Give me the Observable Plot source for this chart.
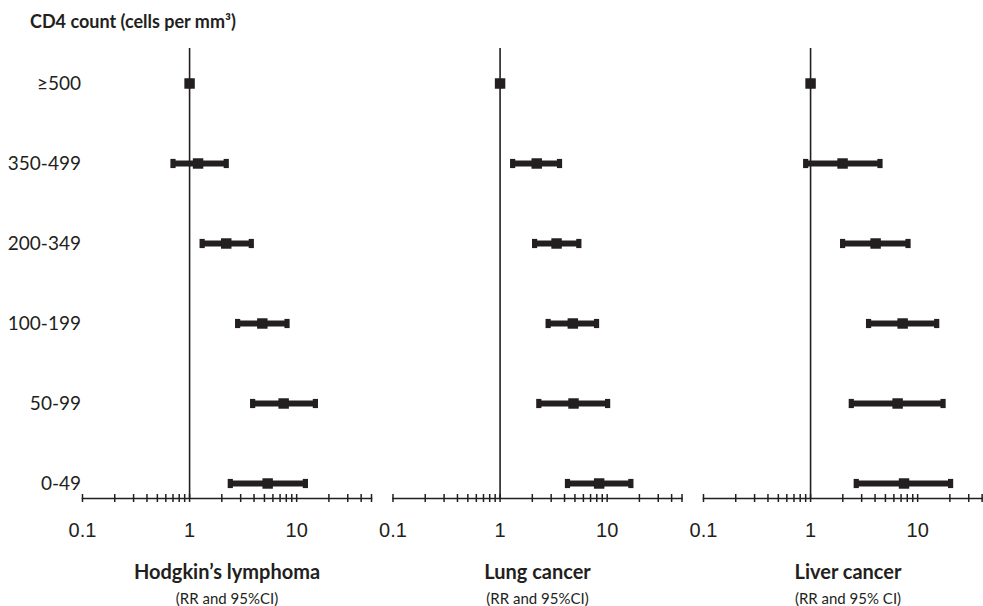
<!DOCTYPE html>
<html><head><meta charset="utf-8">
<script src="https://cdn.jsdelivr.net/npm/d3@7"></script>
<script src="https://cdn.jsdelivr.net/npm/@observablehq/plot@0.6"></script>
<style>
html,body{margin:0;padding:0;background:#fff;overflow:hidden;width:983px;height:606px}
#wrap{position:relative;width:983px;height:606px;overflow:hidden}
#chart{position:absolute;left:0;top:0;width:992px}
#title{position:absolute;left:30px;top:12px;font:bold 18px Lato,sans-serif;line-height:1;color:#231f20;white-space:nowrap}
</style></head><body>
<div id="wrap"><div id="chart"></div><div id="title">CD4 count (cells per mm³)</div></div>
<script>
// ---- data ----
const cd4Groups = ["≥500", "350-499", "200-349", "100-199", "50-99", "0-49"];
const cancers = ["Hodgkin’s lymphoma", "Lung cancer", "Liver cancer"];
const ciNotes = ["(RR and 95%CI)", "(RR and 95%CI)", "(RR and 95% CI)"];

const hodgkinRR = [1, 1.20, 2.20, 4.78, 7.56, 5.36];
const hodgkinLo = [1, 0.70, 1.31, 2.81, 3.88, 2.40];
const hodgkinHi = [1, 2.20, 3.77, 8.13, 14.96, 12.06];

const lungRR = [1, 2.20, 3.37, 4.78, 4.85, 8.42];
const lungLo = [1, 1.31, 2.10, 2.81, 2.30, 4.26];
const lungHi = [1, 3.59, 5.44, 7.96, 10.10, 16.65];

const liverRR = [1, 1.99, 4.05, 7.24, 6.50, 7.46];
const liverLo = [1, 0.90, 1.99, 3.48, 2.40, 2.67];
const liverHi = [1, 4.45, 8.13, 15.06, 17.27, 20.30];

const xDomain = [0.1, 50];
const xTicks = [0.1, 0.2, 0.3, 0.4, 0.5, 0.6, 0.7, 0.8, 0.9, 1, 2, 3, 4, 5, 6, 7, 8, 9, 10, 20, 30, 40, 50];
const xLabels = [0.1, 1, 10];

// ---- table built from the arrays ----
const rrSets = [hodgkinRR, lungRR, liverRR];
const loSets = [hodgkinLo, lungLo, liverLo];
const hiSets = [hodgkinHi, lungHi, liverHi];
const rows = cancers.flatMap((c, j) => cd4Groups.map((g, i) => ({
  cancer: c, cd4: g, rr: rrSets[j][i], lo: loSets[j][i], hi: hiSets[j][i]
})));

const ink = "#231f20";
// end-cap glyph: a small upright rectangle
const capSymbol = {draw(ctx) { ctx.rect(-2.6, -4.6, 5.2, 9.2); }};

const chart = Plot.plot({
  width: 992,
  height: 606,
  marginTop: 48,
  marginBottom: 108,
  marginLeft: 82,
  marginRight: 0,
  style: {fontFamily: "Lato, sans-serif", color: ink, background: "white", overflow: "visible", maxWidth: "none"},
  x: {type: "log", domain: xDomain},
  y: {type: "point", domain: cd4Groups, padding: 0.288, align: 0.69},
  fx: {domain: cancers, paddingInner: 0.0692, paddingOuter: 0, round: false},
  marks: [
    Plot.ruleX([1], {stroke: ink, strokeWidth: 1.6}),
    Plot.frame({anchor: "bottom", stroke: ink, strokeWidth: 1.6}),
    Plot.axisX({ticks: xTicks, tickSize: 8, dy: -4, fill: "none", stroke: ink, strokeWidth: 1.5, label: null}),
    Plot.axisX({ticks: xLabels, tickSize: 0, tickPadding: 24.5, tickFormat: d => String(d),
      fontSize: 20, fontFamily: "Liberation Sans, Arial, sans-serif", label: null}),
    Plot.axisY({tickSize: 0, tickPadding: 1.5, fontSize: 19, label: null}),
    Plot.axisFx({anchor: "bottom", tickSize: 0, tickPadding: 66, fontSize: 20, fontWeight: "bold", label: null}),
    Plot.text(cancers, {fx: d => d, text: (d, i) => ciNotes[i], frameAnchor: "bottom", lineAnchor: "top", dy: 94.5, fontSize: 15, fill: ink}),
    Plot.ruleY(rows, {fx: "cancer", y: "cd4", x1: "lo", x2: "hi", stroke: ink, strokeWidth: 6}),
    Plot.dot(rows, {fx: "cancer", y: "cd4", x: "lo", symbol: capSymbol, fill: ink, stroke: "none"}),
    Plot.dot(rows, {fx: "cancer", y: "cd4", x: "hi", symbol: capSymbol, fill: ink, stroke: "none"}),
    Plot.dot(rows, {fx: "cancer", y: "cd4", x: "rr", symbol: "square", r: 5.9, fill: ink, stroke: "none"})
  ]
});
document.getElementById("chart").appendChild(chart);
</script>
</body></html>
